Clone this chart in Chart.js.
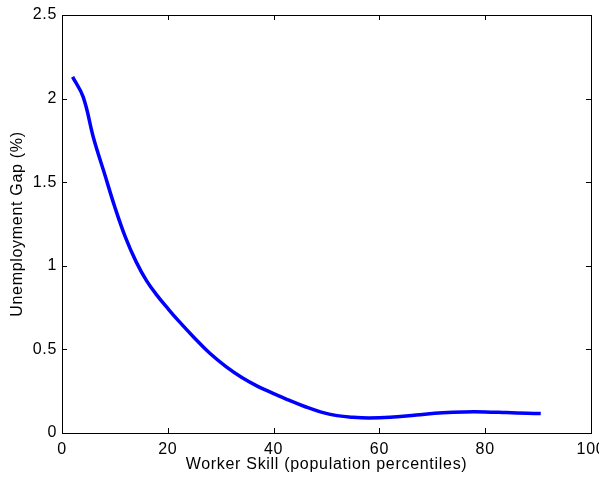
<!DOCTYPE html>
<html>
<head>
<meta charset="utf-8">
<script src="https://cdn.jsdelivr.net/npm/chart.js@4"></script>
<style>
  html, body { margin: 0; padding: 0; background: #fff; }
  #wrap { width: 599px; height: 479px; position: relative; }
</style>
</head>
<body>
<div id="wrap"><canvas id="myChart"></canvas></div>
<script>
// worker skill percentile vs unemployment gap
const skill = [2, 4, 6, 8, 10, 12, 14, 16, 18, 20, 22, 25, 28, 31, 34, 37, 40, 43, 46, 49, 52, 55, 58, 62, 67, 72, 76, 80, 84, 88, 90.5];
const gap = [2.13, 2.01, 1.76, 1.555, 1.35, 1.17, 1.025, 0.91, 0.822, 0.745, 0.672, 0.57, 0.475, 0.397, 0.332, 0.279, 0.236, 0.195, 0.157, 0.125, 0.104, 0.094, 0.09, 0.094, 0.108, 0.121, 0.126, 0.126, 0.122, 0.118, 0.116];

const xTicks = [0, 20, 40, 60, 80, 100];
const yTicks = [0, 0.5, 1, 1.5, 2, 2.5];

const points = skill.map((s, i) => ({ x: s, y: gap[i] }));

const font = { family: "'Liberation Sans', Arial, Helvetica, sans-serif", size: 16 };

// matlab style box with ticks pointing inwards on all four sides
const boxTicks = {
    id: 'boxTicks',
    beforeDraw(chart) {
        chart.ctx.letterSpacing = '0.7px';
    },
    afterDraw(chart) {
        const ctx = chart.ctx;
        const a = chart.chartArea;
        const len = 5;
        ctx.save();
        ctx.letterSpacing = '0px';
        ctx.strokeStyle = '#000';
        ctx.lineWidth = 1;
        ctx.beginPath();
        chart.scales.x.ticks.forEach(t => {
            let px = Math.round(chart.scales.x.getPixelForValue(t.value)) + 0.5;
            ctx.moveTo(px, a.bottom); ctx.lineTo(px, a.bottom - len);
            ctx.moveTo(px, a.top); ctx.lineTo(px, a.top + len);
        });
        chart.scales.y.ticks.forEach(t => {
            let py = Math.round(chart.scales.y.getPixelForValue(t.value)) + 0.5;
            ctx.moveTo(a.left, py); ctx.lineTo(a.left + len, py);
            ctx.moveTo(a.right, py); ctx.lineTo(a.right - len, py);
        });
        ctx.stroke();
        ctx.strokeRect(Math.round(a.left) + 0.5, Math.round(a.top) + 0.5,
            Math.round(a.right - a.left), Math.round(a.bottom - a.top));
        ctx.restore();
    }
};

new Chart(document.getElementById('myChart'), {
    type: 'line',
    data: {
        datasets: [{
            data: points,
            borderColor: '#0000ff',
            borderWidth: 3.5,
            pointRadius: 0,
            tension: 0.4,
            fill: false
        }]
    },
    options: {
        responsive: true,
        maintainAspectRatio: false,
        animation: false,
        layout: { padding: { top: 15, right: 8, left: 0, bottom: 0 } },
        plugins: {
            legend: { display: false },
            tooltip: { enabled: false }
        },
        scales: {
            x: {
                type: 'linear',
                min: 0,
                max: 100,
                afterBuildTicks: s => { s.ticks = xTicks.map(v => ({ value: v })); },
                afterFit: s => { s.height = 46; s.paddingLeft = 0; s.paddingRight = 0; },
                grid: { display: false, drawTicks: false },
                border: { display: false },
                ticks: { color: '#000', font: font, padding: 7, maxRotation: 0, callback: v => String(v) },
                title: {
                    display: true,
                    text: 'Worker Skill (population percentiles)',
                    color: '#000',
                    font: font,
                    padding: { top: 0, bottom: 5 }
                }
            },
            y: {
                min: 0,
                max: 2.5,
                afterBuildTicks: s => { s.ticks = yTicks.map(v => ({ value: v })); },
                afterFit: s => { s.width = 62; s.paddingTop = 0; s.paddingBottom = 0; },
                grid: { display: false, drawTicks: false },
                border: { display: false },
                ticks: { color: '#000', font: font, padding: 5, callback: v => String(v) },
                title: {
                    display: true,
                    text: 'Unemployment Gap (%)',
                    color: '#000',
                    font: font,
                    padding: { top: 8, bottom: 0 }
                }
            }
        }
    },
    plugins: [boxTicks]
});
</script>
</body>
</html>
